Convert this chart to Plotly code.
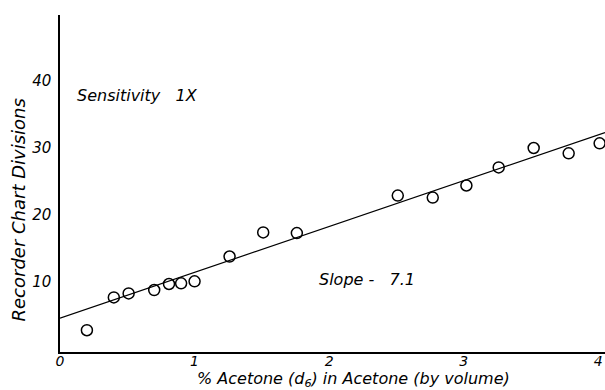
import plotly.graph_objects as go

# Data
acetone_pct = [0.20, 0.40, 0.51, 0.70, 0.81, 0.90, 1.00, 1.26, 1.51, 1.76, 2.51, 2.77, 3.02, 3.26, 3.52, 3.78, 4.01]
divisions = [2.8, 7.7, 8.3, 8.8, 9.7, 9.8, 10.1, 13.8, 17.4, 17.3, 22.9, 22.6, 24.4, 27.1, 30.0, 29.2, 30.7]
fit_x = [0.0, 4.05]
fit_y = [4.6, 32.3]
x_ticks = [0, 1, 2, 3, 4]
y_ticks = [10, 20, 30, 40]

FONT = "DejaVu Sans"

fig = go.Figure()
fig.add_trace(go.Scatter(x=fit_x, y=fit_y, mode="lines",
                         line=dict(color="black", width=1.2), showlegend=False,
                         cliponaxis=False))
fig.add_trace(go.Scatter(x=acetone_pct, y=divisions, mode="markers",
                         marker=dict(symbol="circle-open", size=11, color="black",
                                     line=dict(width=1.5, color="black")),
                         showlegend=False, cliponaxis=False))

fig.add_annotation(x=0.11, y=37.9, xanchor="left", yanchor="middle",
                   text="Sensitivity&nbsp;&nbsp;&nbsp;1X", showarrow=False,
                   font=dict(family=FONT, size=16, color="black", style="italic"))
fig.add_annotation(x=1.91, y=10.4, xanchor="left", yanchor="middle",
                   text="Slope -&nbsp;&nbsp;&nbsp;7.1", showarrow=False,
                   font=dict(family=FONT, size=16, color="black", style="italic"))

# Axis titles as annotations in paper coordinates
fig.add_annotation(xref="paper", yref="paper", x=0.538, y=-0.082,
                   xanchor="center", yanchor="middle", showarrow=False,
                   text="% Acetone (d<sub>6</sub>) in Acetone (by volume)",
                   font=dict(family=FONT, size=16, color="black", style="italic"))
fig.add_annotation(xref="paper", yref="paper", x=-0.077, y=0.42,
                   xanchor="center", yanchor="middle", showarrow=False, textangle=-90,
                   text="Recorder Chart Divisions",
                   font=dict(family=FONT, size=18, color="black", style="italic"))

fig.update_layout(
    width=605, height=390,
    margin=dict(l=60, r=0, t=15, b=38, autoexpand=False),
    paper_bgcolor="white", plot_bgcolor="white",
    font=dict(family=FONT, size=15, color="black", style="italic"),
    xaxis=dict(range=[0, 4.05], tickvals=x_ticks, ticktext=[str(v) for v in x_ticks],
               showgrid=False, zeroline=False, showline=True, linecolor="black",
               linewidth=1.5, ticks="", ticklabelstandoff=-5, automargin=False,
               tickfont=dict(size=14)),
    yaxis=dict(range=[-0.45, 49.85], tickvals=y_ticks, ticktext=[str(v) for v in y_ticks],
               showgrid=False, zeroline=False, showline=True, linecolor="black",
               linewidth=1.5, ticks="", ticklabelstandoff=4, automargin=False,
               tickfont=dict(size=15)),
)

fig.write_html("out.html", config={"displayModeBar": False},
               post_script="document.body.style.margin='0';")
